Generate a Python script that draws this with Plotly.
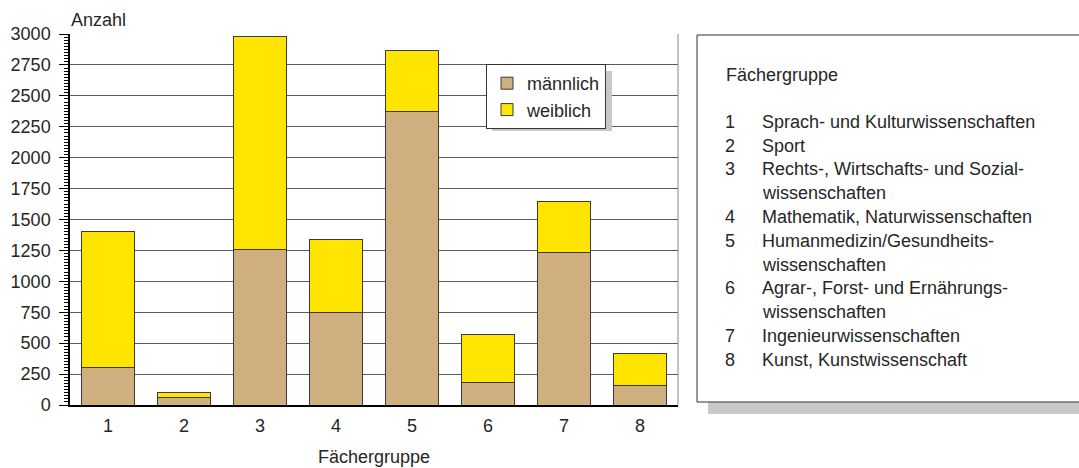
import plotly.graph_objects as go

# ---- data ----
gruppen = ["1", "2", "3", "4", "5", "6", "7", "8"]
maennlich = [300, 60, 1260, 750, 2375, 186, 1233, 156]
weiblich_gesamt = [1400, 105, 2980, 1335, 2870, 568, 1643, 420]
weiblich = [g - m for g, m in zip(weiblich_gesamt, maennlich)]
y_ticks = list(range(0, 3001, 250))
namen = [
    ["Sprach- und Kulturwissenschaften"],
    ["Sport"],
    ["Rechts-, Wirtschafts- und Sozial-", "wissenschaften"],
    ["Mathematik, Naturwissenschaften"],
    ["Humanmedizin/Gesundheits-", "wissenschaften"],
    ["Agrar-, Forst- und Ernährungs-", "wissenschaften"],
    ["Ingenieurwissenschaften"],
    ["Kunst, Kunstwissenschaft"],
]

W, H = 1079, 468
L, R, T, B = 70, 678, 34, 405
FONT = "Liberation Sans, Arial, sans-serif"
FS = 18
TXT = "#262626"


def px(x):
    return (x - L) / (R - L)


def py(y):
    return (B - y) / (B - T)


fig = go.Figure()
fig.add_trace(go.Bar(x=gruppen, y=maennlich, name="männlich",
                     marker=dict(color="#CFAE80", line=dict(color="#3a3a3a", width=1))))
fig.add_trace(go.Bar(x=gruppen, y=weiblich, name="weiblich",
                     marker=dict(color="#FFE500", line=dict(color="#3a3a3a", width=1))))

shapes = []
# right border of plot area
shapes.append(dict(type="line", xref="paper", yref="paper", x0=1, x1=1, y0=0, y1=1,
                   line=dict(color="#8a8a8a", width=1), layer="below"))
# legend shadow
shapes.append(dict(type="rect", xref="paper", yref="paper",
                   x0=px(492), x1=px(612), y0=py(131), y1=py(71),
                   fillcolor="#C8C8CA", line=dict(width=0), layer="above"))
# side box shadow and box
shapes.append(dict(type="rect", xref="paper", yref="paper",
                   x0=px(708), x1=px(1095), y0=py(414), y1=py(47),
                   fillcolor="#C8C8CA", line=dict(width=0), layer="above"))
shapes.append(dict(type="rect", xref="paper", yref="paper",
                   x0=px(697), x1=px(1095), y0=py(402), y1=py(35),
                   fillcolor="white", line=dict(color="#333333", width=1), layer="above"))

annotations = []
annotations.append(dict(text="Anzahl", xref="paper", yref="paper", x=px(69), y=py(20),
                        xanchor="left", yanchor="middle", showarrow=False,
                        font=dict(family=FONT, size=FS, color=TXT)))
annotations.append(dict(text="Fächergruppe", xref="paper", yref="paper", x=px(724), y=py(75),
                        xanchor="left", yanchor="middle", showarrow=False,
                        font=dict(family=FONT, size=FS, color=TXT)))
line_y = 121.7
step = 23.8
for nr, zeilen in zip(gruppen, namen):
    annotations.append(dict(text=nr, xref="paper", yref="paper", x=px(723), y=py(line_y),
                            xanchor="left", yanchor="middle", showarrow=False,
                            font=dict(family=FONT, size=FS, color=TXT)))
    for z in zeilen:
        annotations.append(dict(text=z, xref="paper", yref="paper", x=px(760), y=py(line_y),
                                xanchor="left", yanchor="middle", showarrow=False,
                                font=dict(family=FONT, size=FS, color=TXT)))
        line_y += step

fig.update_layout(
    width=W, height=H,
    margin=dict(l=L, r=W - R, t=T, b=H - B, autoexpand=False),
    paper_bgcolor="white", plot_bgcolor="white",
    barmode="stack", bargap=0.307,
    font=dict(family=FONT, size=FS, color=TXT),
    showlegend=True,
    legend=dict(x=px(486), y=py(64), xanchor="left", yanchor="top",
                traceorder="normal", bgcolor="white", bordercolor="#333333", borderwidth=1,
                font=dict(family=FONT, size=FS, color=TXT), itemwidth=30,
                tracegroupgap=0),
    shapes=shapes,
    annotations=annotations,
    xaxis=dict(type="category", showline=True, linecolor="black", linewidth=1.5,
               ticks="", showgrid=False, zeroline=False, ticklabelstandoff=4,
               tickfont=dict(family=FONT, size=FS, color=TXT),
               title=dict(text="Fächergruppe", font=dict(family=FONT, size=FS, color=TXT)),
               automargin=False),
    yaxis=dict(range=[0, 3000], tickvals=y_ticks, showline=True, linecolor="black",
               linewidth=1.5, ticks="outside", ticklen=9, tickcolor="black", tickwidth=1,
               showgrid=True, gridcolor="#5a5a5a", gridwidth=1, zeroline=False,
               ticklabelstandoff=5,
               tickfont=dict(family=FONT, size=FS, color=TXT),
               minor=dict(dtick=25, ticks="outside", ticklen=4, tickcolor="black",
                          tickwidth=1, showgrid=False),
               automargin=False),
)

fig.write_html(
    "out.html",
    config={"displayModeBar": False},
    post_script="document.body.style.margin='0';document.body.style.overflow='hidden';"
                "document.documentElement.style.overflow='hidden';",
)
